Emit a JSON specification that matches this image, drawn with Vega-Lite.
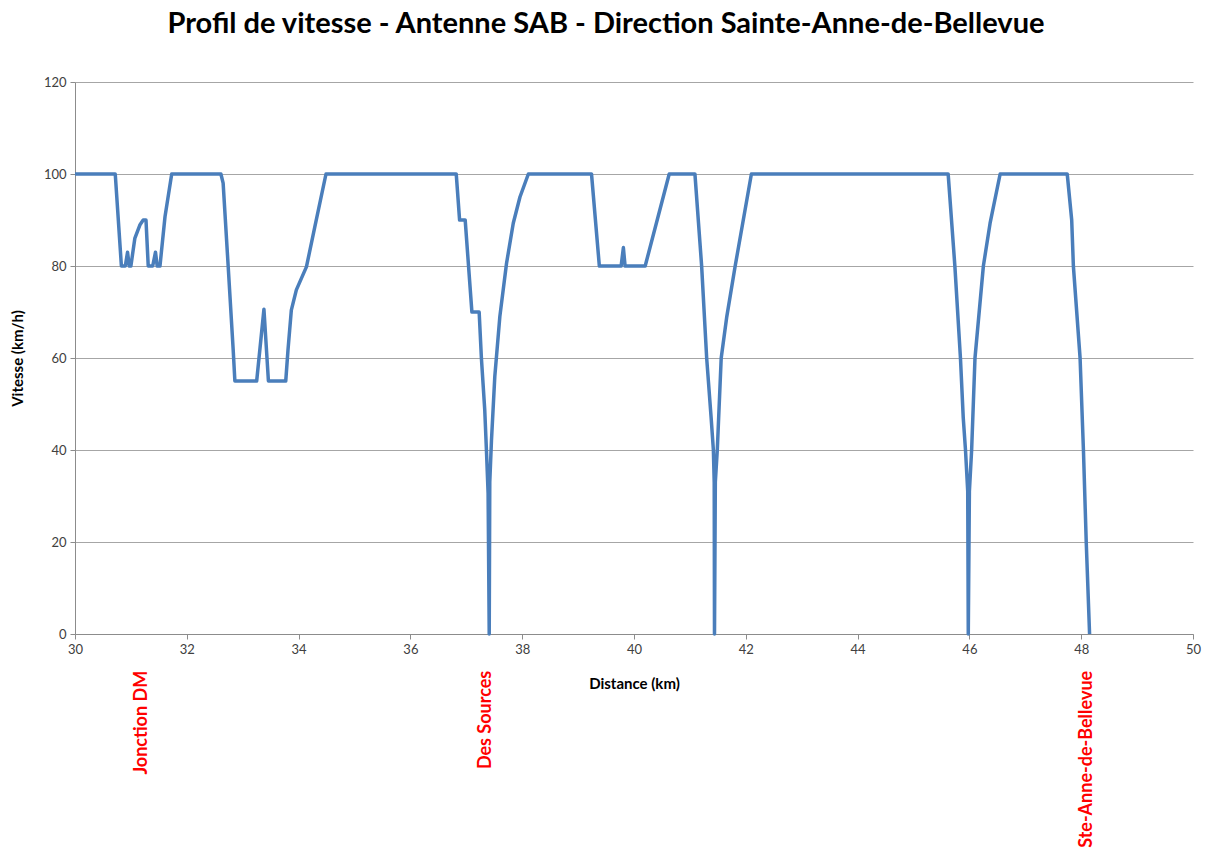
{
  "$schema": "https://vega.github.io/schema/vega-lite/v6.json",
  "autosize": {"type": "none"},
  "width": 1118,
  "height": 552,
  "padding": {"left": 75, "top": 82, "right": 17, "bottom": 223},
  "background": "white",
  "title": {
    "text": "Profil de vitesse - Antenne SAB - Direction Sainte-Anne-de-Bellevue",
    "font": "Lato",
    "fontSize": 29,
    "fontWeight": "bold",
    "color": "#000000",
    "anchor": "middle",
    "dx": -28,
    "offset": 37
  },
  "config": {
    "view": {"stroke": null},
    "axis": {
      "labelFont": "Lato",
      "titleFont": "Lato",
      "labelColor": "#404040",
      "titleColor": "#000000",
      "domainColor": "#8c8c8c",
      "tickColor": "#8c8c8c",
      "gridColor": "#a6a6a6",
      "labelFontSize": 13,
      "titleFontSize": 15,
      "titleFontWeight": "bold"
    }
  },
  "datasets": {
    "profil": [
      {"km": 30.0, "v": 100}, {"km": 30.72, "v": 100}, {"km": 30.83, "v": 80}, {"km": 30.9, "v": 80},
      {"km": 30.94, "v": 83}, {"km": 30.97, "v": 80}, {"km": 31.0, "v": 80}, {"km": 31.07, "v": 86},
      {"km": 31.16, "v": 88.9}, {"km": 31.22, "v": 90}, {"km": 31.27, "v": 90}, {"km": 31.31, "v": 80},
      {"km": 31.39, "v": 80}, {"km": 31.44, "v": 83}, {"km": 31.47, "v": 80}, {"km": 31.52, "v": 80},
      {"km": 31.61, "v": 90.7}, {"km": 31.73, "v": 100}, {"km": 32.61, "v": 100}, {"km": 32.65, "v": 98},
      {"km": 32.74, "v": 80}, {"km": 32.83, "v": 61.7}, {"km": 32.86, "v": 55}, {"km": 33.25, "v": 55},
      {"km": 33.38, "v": 70.6}, {"km": 33.46, "v": 55}, {"km": 33.77, "v": 55}, {"km": 33.81, "v": 61.7},
      {"km": 33.87, "v": 70.4}, {"km": 33.96, "v": 74.8}, {"km": 34.14, "v": 79.8}, {"km": 34.29, "v": 88.5},
      {"km": 34.49, "v": 100}, {"km": 36.82, "v": 100}, {"km": 36.88, "v": 90}, {"km": 36.98, "v": 90},
      {"km": 37.1, "v": 70}, {"km": 37.23, "v": 70}, {"km": 37.27, "v": 60}, {"km": 37.33, "v": 48.7},
      {"km": 37.36, "v": 40}, {"km": 37.39, "v": 30.6}, {"km": 37.41, "v": 0}, {"km": 37.42, "v": 33},
      {"km": 37.45, "v": 42}, {"km": 37.51, "v": 56}, {"km": 37.6, "v": 69}, {"km": 37.72, "v": 80.6},
      {"km": 37.84, "v": 89.3}, {"km": 37.96, "v": 95}, {"km": 38.11, "v": 100}, {"km": 39.24, "v": 100},
      {"km": 39.38, "v": 80}, {"km": 39.77, "v": 80}, {"km": 39.81, "v": 84}, {"km": 39.84, "v": 80},
      {"km": 40.2, "v": 80}, {"km": 40.63, "v": 100}, {"km": 41.09, "v": 100}, {"km": 41.21, "v": 80},
      {"km": 41.3, "v": 60}, {"km": 41.38, "v": 47}, {"km": 41.42, "v": 40}, {"km": 41.435, "v": 33},
      {"km": 41.44, "v": 0}, {"km": 41.455, "v": 33}, {"km": 41.49, "v": 40}, {"km": 41.56, "v": 60},
      {"km": 41.66, "v": 69}, {"km": 41.81, "v": 80}, {"km": 42.1, "v": 100}, {"km": 45.62, "v": 100},
      {"km": 45.74, "v": 80}, {"km": 45.84, "v": 60}, {"km": 45.89, "v": 47}, {"km": 45.93, "v": 40},
      {"km": 45.97, "v": 31}, {"km": 45.98, "v": 0}, {"km": 46.0, "v": 31}, {"km": 46.04, "v": 40},
      {"km": 46.1, "v": 60}, {"km": 46.25, "v": 80}, {"km": 46.37, "v": 89.3}, {"km": 46.55, "v": 100},
      {"km": 47.75, "v": 100}, {"km": 47.83, "v": 90}, {"km": 47.86, "v": 80}, {"km": 47.98, "v": 60},
      {"km": 48.04, "v": 40}, {"km": 48.09, "v": 20}, {"km": 48.15, "v": 0}
    ],
    "gares": [
      {"km": 31.2, "nom": "Jonction DM"},
      {"km": 37.35, "nom": "Des Sources"},
      {"km": 48.1, "nom": "Ste-Anne-de-Bellevue"}
    ]
  },
  "layer": [
    {
      "data": {"name": "profil"},
      "mark": {"type": "line", "color": "#4A7EBB", "strokeWidth": 3.5, "strokeJoin": "round"},
      "encoding": {
        "x": {
          "field": "km", "type": "quantitative",
          "scale": {"domain": [30, 50], "nice": false, "zero": false},
          "axis": {"title": "Distance  (km)", "values": [30, 32, 34, 36, 38, 40, 42, 44, 46, 48, 50], "grid": false, "tickSize": 5, "labelPadding": 4, "titlePadding": 20, "labelFlush": false}
        },
        "y": {
          "field": "v", "type": "quantitative",
          "scale": {"domain": [0, 120], "nice": false},
          "axis": {"title": "Vitesse (km/h)", "values": [0, 20, 40, 60, 80, 100, 120], "grid": true, "tickSize": 5, "labelPadding": 4, "titlePadding": 18}
        }
      }
    },
    {
      "data": {"name": "gares"},
      "mark": {"type": "text", "font": "Lato", "fontSize": 18, "fontWeight": "bold", "color": "#FF0000", "angle": 270, "align": "right", "baseline": "middle"},
      "encoding": {
        "x": {"field": "km", "type": "quantitative"},
        "y": {"datum": -8},
        "text": {"field": "nom"}
      }
    }
  ]
}
